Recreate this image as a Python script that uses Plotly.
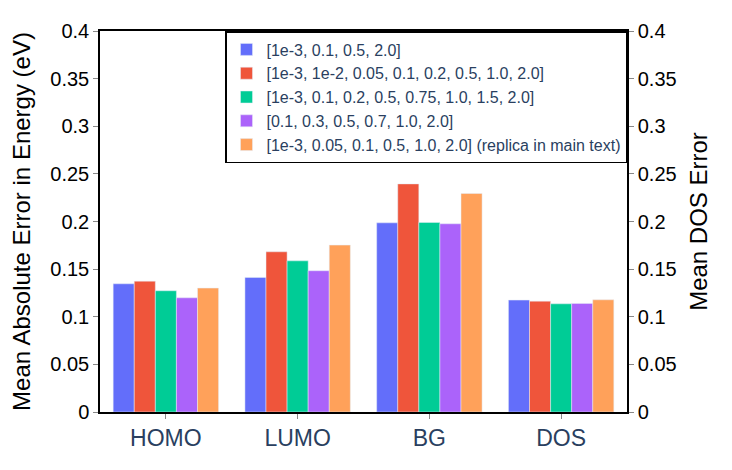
import plotly.graph_objects as go

# Categories on the x axis
categories = ['HOMO', 'LUMO', 'BG', 'DOS']

# Legend names for each set of smearing widths
series_names = [
    '[1e-3, 0.1, 0.5, 2.0]',
    '[1e-3, 1e-2, 0.05, 0.1, 0.2, 0.5, 1.0, 2.0]',
    '[1e-3, 0.1, 0.2, 0.5, 0.75, 1.0, 1.5, 2.0]',
    '[0.1, 0.3, 0.5, 0.7, 1.0, 2.0]',
    '[1e-3, 0.05, 0.1, 0.5, 1.0, 2.0] (replica in main text)',
]

# Mean errors per category
set_a = [0.1346, 0.1413, 0.1986, 0.1175]
set_b = [0.1374, 0.1682, 0.2395, 0.1164]
set_c = [0.1273, 0.1587, 0.1990, 0.1136]
set_d = [0.1199, 0.1483, 0.1976, 0.1140]
set_e = [0.1301, 0.1752, 0.2294, 0.1178]

series_values = [set_a, set_b, set_c, set_d, set_e]
colors = ['#636efa', '#EF553B', '#00cc96', '#ab63fa', '#FFA15A']

fig = go.Figure()

for name, vals, col in zip(series_names, series_values, colors):
    fig.add_trace(go.Bar(x=categories, y=vals, name=name,
                         marker=dict(color=col, line=dict(color='#E5ECF6', width=0.5))))

# Empty trace so the right-hand axis gets drawn
fig.add_trace(go.Scatter(x=[None], y=[None], yaxis='y2', showlegend=False, hoverinfo='skip'))

font_family = 'Arial, Liberation Sans, sans-serif'
tick_font = dict(family=font_family, size=20, color='black')
title_font = dict(family=font_family, size=24, color='black')

fig.update_layout(
    template='plotly',
    width=732, height=470,
    barmode='group',
    bargap=0.2,
    plot_bgcolor='white',
    paper_bgcolor='white',
    margin=dict(l=92, r=113, t=23, b=66),
    font=dict(family=font_family),
    xaxis=dict(
        showgrid=False,
        showline=True, linecolor='black', linewidth=1.5, mirror=True,
        ticks='outside', ticklen=5, tickcolor='#888',
        tickfont=dict(family=font_family, size=23, color='#2a3f5f'),
    ),
    yaxis=dict(
        title=dict(text='Mean Absolute Error in Energy (eV)', font=title_font),
        range=[0, 0.4], dtick=0.05,
        showgrid=False, zeroline=False,
        showline=True, linecolor='black', linewidth=1.5,
        ticks='outside', ticklen=5, tickcolor='#888',
        tickfont=tick_font,
    ),
    yaxis2=dict(
        title=dict(text='Mean DOS Error', font=title_font),
        overlaying='y', side='right',
        range=[0, 0.4], dtick=0.05,
        showgrid=False, zeroline=False,
        showline=True, linecolor='black', linewidth=1.5,
        ticks='outside', ticklen=5, tickcolor='#888',
        tickfont=tick_font,
    ),
    legend=dict(
        x=1, y=1, xanchor='right', yanchor='top',
        bgcolor='white', bordercolor='black', borderwidth=1.5,
        font=dict(family=font_family, size=16, color='#2a3f5f'),
    ),
)

fig.write_html("out.html")
